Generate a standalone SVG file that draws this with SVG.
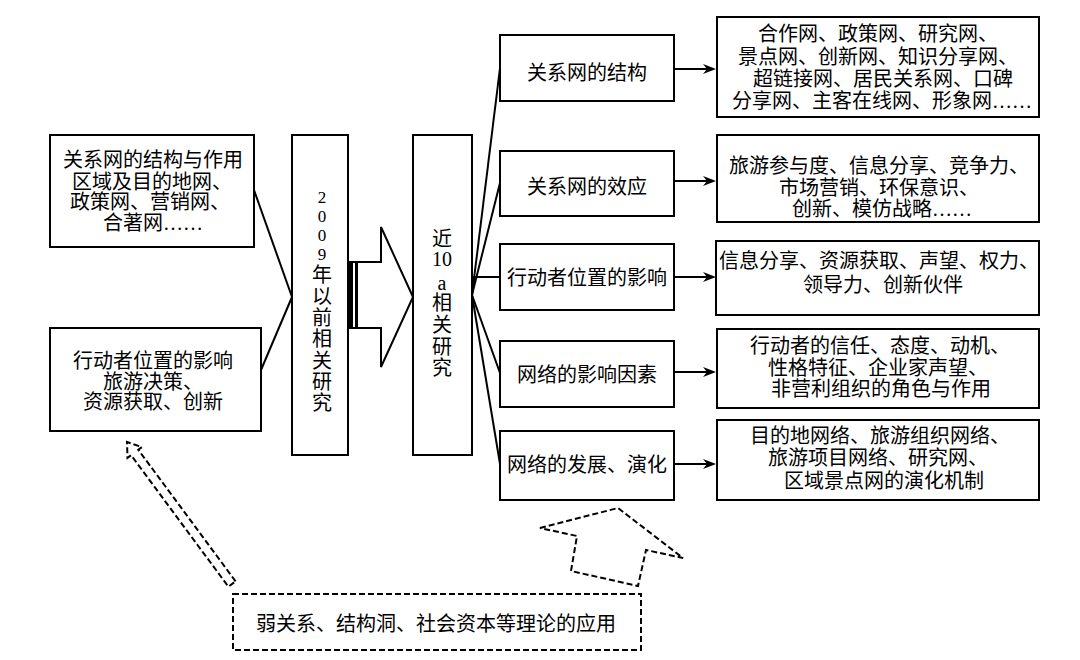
<svg xmlns="http://www.w3.org/2000/svg" width="1080" height="660" viewBox="0 0 1080 660">
<style>
  .box{fill:#fff;stroke:#000;stroke-width:2}
  .dash{fill:none;stroke:#000;stroke-width:2;stroke-dasharray:6 3}
  .ln{fill:none;stroke:#000;stroke-width:2}
  text{font-family:"Liberation Serif","Noto Sans CJK SC",serif;font-size:20px;fill:#000;text-anchor:middle}
  .dg{font-size:17px}
</style>
<defs>
  <marker id="ah" viewBox="0 0 13 10" refX="5" refY="5" markerWidth="13" markerHeight="10" markerUnits="userSpaceOnUse" orient="auto">
    <path d="M0,0 L13,5 L0,10 L4,5 z" fill="#000"/>
  </marker>
</defs>
<rect width="1080" height="660" fill="#fff"/>

<g id="connectors">
  <line class="ln" x1="254" y1="190" x2="292" y2="297"/>
  <line class="ln" x1="261" y1="370" x2="292" y2="297"/>
  <line class="ln" x1="472" y1="295" x2="500" y2="68"/>
  <line class="ln" x1="472" y1="295" x2="500" y2="183"/>
  <polyline class="ln" points="472,295 474,277 500,277"/>
  <line class="ln" x1="472" y1="295" x2="500" y2="373"/>
  <line class="ln" x1="472" y1="295" x2="500" y2="464"/>
  <line class="ln" x1="674" y1="69" x2="708" y2="69" marker-end="url(#ah)"/>
  <line class="ln" x1="674" y1="181" x2="708" y2="181" marker-end="url(#ah)"/>
  <line class="ln" x1="674" y1="277" x2="708" y2="277" marker-end="url(#ah)"/>
  <line class="ln" x1="674" y1="372" x2="708" y2="372" marker-end="url(#ah)"/>
  <line class="ln" x1="674" y1="464" x2="708" y2="464" marker-end="url(#ah)"/>
  <polygon class="ln" fill="#fff" points="348,262 381,262 381,227 413,297 381,367 381,328 348,328"/>
  <rect x="348" y="262" width="5" height="66" fill="#000"/>
  <rect x="355" y="262" width="3" height="66" fill="#000"/>
  <polygon class="dash" points="235.6,581.3 138.3,449.8 141.9,447.1 127,442 127.5,457.9 131.1,455.2 228.4,586.7"/>
  <polygon class="dash" points="540,528 618,508 683,558 646,550 638,586 571,571 577,536"/>
</g>

<g id="left1">
  <rect class="box" x="50" y="135" width="204" height="112"/>
  <text x="153" y="166.5">关系网的结构与作用</text>
  <text x="152" y="188.5">区域及目的地网、</text>
  <text x="150" y="209">政策网、营销网、</text>
  <text x="153" y="230">合著网……</text>
</g>

<g id="left2">
  <rect class="box" x="50" y="328" width="211" height="103"/>
  <text x="153" y="367.5">行动者位置的影响</text>
  <text x="153" y="389">旅游决策、</text>
  <text x="153" y="409">资源获取、创新</text>
</g>

<g id="before2009">
  <rect class="box" x="292" y="135" width="56" height="320"/>
  <text><tspan class="dg" x="322" y="203">2</tspan><tspan class="dg" x="322" y="222">0</tspan><tspan class="dg" x="322" y="241">0</tspan><tspan class="dg" x="322" y="260">9</tspan><tspan x="322" y="281.5">年</tspan><tspan x="322" y="303.5">以</tspan><tspan x="322" y="324.5">前</tspan><tspan x="322" y="346">相</tspan><tspan x="322" y="368">关</tspan><tspan x="322" y="388.5">研</tspan><tspan x="322" y="409.5">究</tspan></text>
</g>

<g id="recent10a">
  <rect class="box" x="413" y="135" width="59" height="320"/>
  <text><tspan x="442" y="245.5">近</tspan><tspan x="442" y="266">10</tspan><tspan x="442" y="289.5">a</tspan><tspan x="442" y="309.5">相</tspan><tspan x="442" y="331.5">关</tspan><tspan x="442" y="353.5">研</tspan><tspan x="442" y="374.5">究</tspan></text>
</g>

<g id="m1">
  <rect class="box" x="500" y="35" width="174" height="66"/>
  <text x="587" y="79.5">关系网的结构</text>
</g>
<g id="m2">
  <rect class="box" x="500" y="151" width="174" height="65"/>
  <text x="587" y="193.5">关系网的效应</text>
</g>
<g id="m3">
  <rect class="box" x="500" y="244" width="174" height="66"/>
  <text x="587" y="285">行动者位置的影响</text>
</g>
<g id="m4">
  <rect class="box" x="500" y="341" width="174" height="66"/>
  <text x="587" y="382">网络的影响因素</text>
</g>
<g id="m5">
  <rect class="box" x="500" y="431" width="174" height="69"/>
  <text x="587" y="472">网络的发展、演化</text>
</g>

<g id="r1">
  <rect class="box" x="717" y="17" width="322" height="100"/>
  <text x="878" y="40.5">合作网、政策网、研究网、</text>
  <text x="878" y="63.5">景点网、创新网、知识分享网、</text>
  <text x="883" y="85.5">超链接网、居民关系网、口碑</text>
  <text x="882" y="107.5">分享网、主客在线网、形象网……</text>
</g>
<g id="r2">
  <rect class="box" x="717" y="135" width="322" height="87"/>
  <text x="879" y="172.5">旅游参与度、信息分享、竞争力、</text>
  <text x="879" y="194.5">市场营销、环保意识、</text>
  <text x="882" y="215.5">创新、模仿战略……</text>
</g>
<g id="r3">
  <rect class="box" x="716" y="241" width="323" height="74"/>
  <text x="879" y="267.5">信息分享、资源获取、声望、权力、</text>
  <text x="883" y="292">领导力、创新伙伴</text>
</g>
<g id="r4">
  <rect class="box" x="717" y="329" width="322" height="79"/>
  <text x="880" y="352.5">行动者的信任、态度、动机、</text>
  <text x="878" y="374.5">性格特征、企业家声望、</text>
  <text x="881" y="395.5">非营利组织的角色与作用</text>
</g>
<g id="r5">
  <rect class="box" x="717" y="420" width="322" height="80"/>
  <text x="880" y="442.5">目的地网络、旅游组织网络、</text>
  <text x="878" y="464.5">旅游项目网络、研究网、</text>
  <text x="884" y="487.5">区域景点网的演化机制</text>
</g>

<g id="theory">
  <rect class="dash" x="233" y="594" width="408" height="56"/>
  <text x="436" y="631">弱关系、结构洞、社会资本等理论的应用</text>
</g>
</svg>
